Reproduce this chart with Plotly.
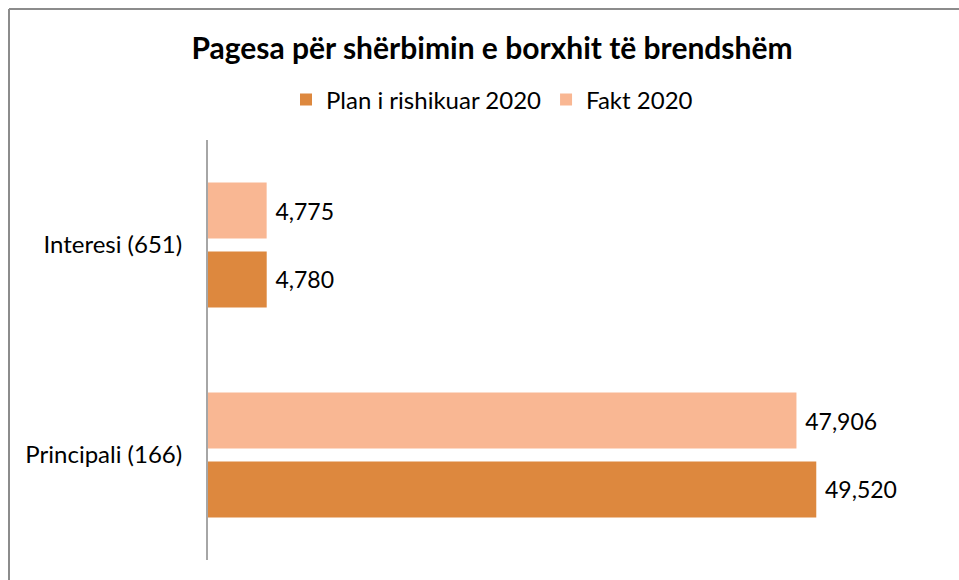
import plotly.graph_objects as go

categories = ["Principali (166)", "Interesi (651)"]
plan_2020 = [49520, 4780]
fakt_2020 = [47906, 4775]
series_names = ["Plan i rishikuar 2020", "Fakt 2020"]
title_text = "Pagesa për shërbimin e borxhit të brendshëm"

FONT = "Lato, Carlito, Calibri, sans-serif"
W, H = 959, 580
L, R, T, B = 208, 14, 140, 20
pw, ph = W - L - R, H - T - B

def px_x(p):
    return (p - L) / pw

def px_y(p):
    return (H - B - p) / ph

PAD = "\u2009\u2009"

fig = go.Figure()
fig.add_trace(go.Bar(
    y=categories, x=plan_2020, orientation="h", name=series_names[0],
    marker=dict(color="#DD883E", line=dict(width=0)),
    text=[f"{PAD}{v:,}" for v in plan_2020], textposition="outside",
    textfont=dict(size=23, color="#000000", family=FONT), cliponaxis=False,
))
fig.add_trace(go.Bar(
    y=categories, x=fakt_2020, orientation="h", name=series_names[1],
    marker=dict(color="#F9B793", line=dict(width=0)),
    text=[f"{PAD}{v:,}" for v in fakt_2020], textposition="outside",
    textfont=dict(size=23, color="#000000", family=FONT), cliponaxis=False,
))

fig.update_layout(
    width=W, height=H,
    margin=dict(l=L, r=R, t=T, b=B, pad=0),
    paper_bgcolor="white", plot_bgcolor="white",
    barmode="group", bargap=0.343, bargroupgap=0.188,
    font=dict(family=FONT, size=24, color="#000000"),
    title=dict(text=f"<b>{title_text}</b>", x=px_x(492), xref="paper",
               xanchor="center", y=1 - 48 / H, yanchor="middle",
               font=dict(size=30, family=FONT, color="#000000")),
    legend=dict(orientation="h", x=px_x(492), xanchor="center", xref="paper",
                y=px_y(100), yanchor="middle", yref="paper",
                font=dict(size=24, family=FONT), traceorder="normal",
                itemwidth=30, tracegroupgap=0),
    showlegend=True,
    xaxis=dict(range=[0, 60000], visible=False, showgrid=False, zeroline=False),
    yaxis=dict(showline=True, linecolor="#A6A6A6", linewidth=2, ticks="",
               showgrid=False, ticklabelstandoff=19,
               tickfont=dict(size=24, family=FONT, color="#000000")),
    uniformtext=dict(mode=False),
    shapes=[
        dict(type="line", xref="paper", yref="paper",
             x0=px_x(9), x1=px_x(W + 5), y0=px_y(9), y1=px_y(9),
             line=dict(color="#8C8C8C", width=2)),
        dict(type="line", xref="paper", yref="paper",
             x0=px_x(9), x1=px_x(9), y0=px_y(9), y1=px_y(H + 5),
             line=dict(color="#8C8C8C", width=2)),
    ],
)

fig.write_html(
    "out.html",
    config={"displayModeBar": False},
    post_script="document.body.style.margin='0';document.body.style.padding='0';document.body.style.overflow='hidden';",
)
